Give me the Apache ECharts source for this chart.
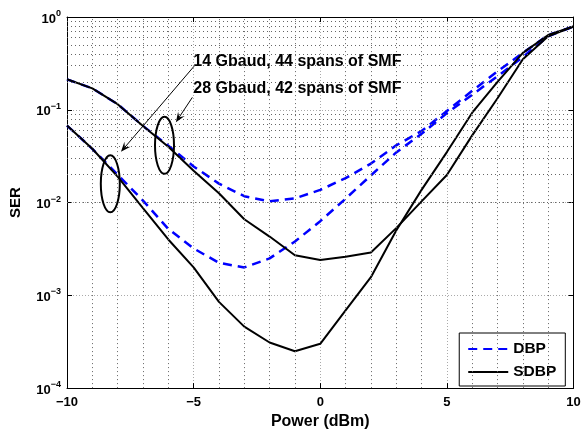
<!DOCTYPE html>
<html>
<head>
<meta charset="utf-8">
<script src="https://cdn.jsdelivr.net/npm/echarts@6/dist/echarts.min.js"></script>
<style>
html, body { margin: 0; padding: 0; background: #fff; }
#chart { width: 584px; height: 435px; }
</style>
</head>
<body>
<div id="chart"></div>
<script>
// launch power (dBm)
const power = [-10, -9, -8, -7, -6, -5, -4, -3, -2, -1, 0, 1, 2, 3, 4, 5, 6, 7, 8, 9, 10]

// 28 Gbaud, 42 spans
const dbp28 = [0.213, 0.17, 0.115, 0.067, 0.041, 0.0245, 0.016, 0.0117, 0.0103, 0.0111, 0.0137, 0.0183, 0.0263, 0.0414, 0.059, 0.097, 0.16, 0.26, 0.41, 0.64, 0.79]
const sdbp28 = [0.213, 0.17, 0.115, 0.067, 0.040, 0.022, 0.0126, 0.0066, 0.0043, 0.0027, 0.0024, 0.0026, 0.0029, 0.0053, 0.0103, 0.0198, 0.053, 0.133, 0.35, 0.62, 0.79]

// 14 Gbaud, 44 spans
const dbp14 = [0.0676, 0.038, 0.020, 0.0105, 0.0052, 0.0032, 0.00224, 0.0020, 0.0025, 0.0038, 0.0063, 0.011, 0.0196, 0.0347, 0.055, 0.092, 0.145, 0.23, 0.37, 0.62, 0.79]
const sdbp14 = [0.0676, 0.038, 0.019, 0.0087, 0.0040, 0.0020, 0.00085, 0.00046, 0.00031, 0.00025, 0.00030, 0.00069, 0.00157, 0.0050, 0.0137, 0.035, 0.093, 0.20, 0.41, 0.64, 0.79]

// minor grid positions
const xMinor = [-9, -8, -7, -6, -4, -3, -2, -1, 1, 2, 3, 4, 6, 7, 8, 9]
const yMinor = [2e-4, 3e-4, 4e-4, 5e-4, 6e-4, 7e-4, 8e-4, 9e-4,
  2e-3, 3e-3, 4e-3, 5e-3, 6e-3, 7e-3, 8e-3, 9e-3,
  2e-2, 3e-2, 4e-2, 5e-2, 6e-2, 7e-2, 8e-2, 9e-2,
  0.2, 0.3, 0.4, 0.5, 0.6, 0.7, 0.8, 0.9]

// annotations (data coords)
const annoLabels = ['14 Gbaud, 44 spans of SMF', '28 Gbaud, 42 spans of SMF']
const annoLabelAt = [[-5.01, 0.333], [-5.01, 0.169]]
const ellipseAt = [[-8.29, 0.0159], [-6.15, 0.0414]]
const arrowFrom = [[-4.98, 0.295], [-5.05, 0.136]]
const arrowTo = [[-7.87, 0.0352], [-5.70, 0.0735]]

const FONT = '"Liberation Sans", Arial, Helvetica, sans-serif'
const pairs = ys => power.map((x, i) => [x, ys[i]])

const chart = echarts.init(document.getElementById('chart'))

function sup(v) {
  const e = Math.round(Math.log10(v))
  return '{b|10}{s|' + (e < 0 ? '\u2212' + (-e) : e) + '}'
}

const axisLine = { show: true, onZero: false, lineStyle: { color: '#000', width: 1 } }

const dbpStyle = { color: '#0000ff', width: 2.5, type: [9, 6] }
const sdbpStyle = { color: '#000', width: 2 }

chart.setOption({
  animation: false,
  grid: { left: 66, right: 10.5, top: 17, bottom: 43 },
  legend: {
    data: ['DBP', 'SDBP'],
    orient: 'vertical',
    right: 18.7,
    bottom: 49,
    itemWidth: 40,
    itemHeight: 14,
    itemGap: 7,
    padding: [8, 9, 6, 8],
    borderColor: '#000',
    borderWidth: 1,
    borderRadius: 0,
    backgroundColor: '#fff',
    selectedMode: false,
    itemStyle: { opacity: 0 },
    textStyle: { fontFamily: FONT, fontWeight: 'bold', fontSize: 15.5, color: '#000' }
  },
  xAxis: [
    {
      type: 'value',
      min: -10,
      max: 10,
      interval: 5,
      position: 'bottom',
      axisLine: axisLine,
      axisTick: { inside: true, length: 5, lineStyle: { color: '#000' } },
      axisLabel: {
        color: '#000', fontFamily: FONT, fontWeight: 'bold', fontSize: 13, margin: 8,
        formatter: v => String(v).replace('-', '\u2212')
      },
      splitLine: { show: true, lineStyle: { color: '#aaa', type: [1, 2], width: 1 } },
      name: 'Power (dBm)',
      nameLocation: 'middle',
      nameGap: 25,
      nameTextStyle: { color: '#000', fontFamily: FONT, fontWeight: 'bold', fontSize: 16 }
    },
    {
      type: 'value',
      min: -10,
      max: 10,
      interval: 5,
      position: 'top',
      axisLine: axisLine,
      axisTick: { inside: true, length: 5, lineStyle: { color: '#000' } },
      axisLabel: { show: false },
      splitLine: { show: false }
    }
  ],
  yAxis: [
    {
      type: 'log',
      logBase: 10,
      min: 1e-4,
      max: 1,
      position: 'left',
      axisLine: axisLine,
      axisTick: { inside: true, length: 5, lineStyle: { color: '#000' } },
      axisLabel: {
        margin: 6,
        formatter: sup,
        rich: {
          b: { fontFamily: FONT, fontWeight: 'bold', fontSize: 13, color: '#000', lineHeight: 16, padding: [4, 0, 0, 0] },
          s: { fontFamily: FONT, fontWeight: 'bold', fontSize: 9, color: '#000', lineHeight: 10, verticalAlign: 'top' }
        }
      },
      splitLine: { show: true, lineStyle: { color: '#aaa', type: [1, 2], width: 1 } },
      name: 'SER',
      nameLocation: 'middle',
      nameGap: 44,
      nameTextStyle: { color: '#000', fontFamily: FONT, fontWeight: 'bold', fontSize: 15 }
    },
    {
      type: 'log',
      logBase: 10,
      min: 1e-4,
      max: 1,
      position: 'right',
      axisLine: axisLine,
      axisTick: { inside: true, length: 5, lineStyle: { color: '#000' } },
      axisLabel: { show: false },
      splitLine: { show: false }
    }
  ],
  series: [
    {
      name: 'grid',
      type: 'line',
      data: [],
      silent: true,
      markLine: {
        silent: true,
        symbol: 'none',
        label: { show: false },
        lineStyle: { color: '#666', type: [1, 3], width: 1 },
        data: yMinor.map(v => ({ yAxis: v })).concat(xMinor.map(v => ({ xAxis: v })))
      }
    },
    { name: 'DBP', type: 'line', data: pairs(dbp28), symbol: 'none', lineStyle: dbpStyle, itemStyle: { color: '#0000ff' } },
    { name: 'DBP', type: 'line', data: pairs(dbp14), symbol: 'none', lineStyle: dbpStyle, itemStyle: { color: '#0000ff' } },
    { name: 'SDBP', type: 'line', data: pairs(sdbp28), symbol: 'none', lineStyle: sdbpStyle, itemStyle: { color: '#000' } },
    { name: 'SDBP', type: 'line', data: pairs(sdbp14), symbol: 'none', lineStyle: sdbpStyle, itemStyle: { color: '#000' } }
  ]
})

// annotations: labels, ellipses, arrows
const px = p => chart.convertToPixel({ xAxisIndex: 0, yAxisIndex: 0 }, p)
const graphics = []
annoLabels.forEach((t, i) => {
  const p = px(annoLabelAt[i])
  graphics.push({
    type: 'text', z: 100,
    style: { text: t, x: p[0], y: p[1], font: 'bold 16px ' + FONT, fill: '#000', verticalAlign: 'middle' }
  })
  const c = px(ellipseAt[i])
  graphics.push({
    type: 'ellipse', z: 100,
    shape: { cx: c[0], cy: c[1], rx: 9.5, ry: 28.5 },
    style: { fill: 'none', stroke: '#000', lineWidth: 2 }
  })
  const a = px(arrowFrom[i])
  const b = px(arrowTo[i])
  const dx = b[0] - a[0], dy = b[1] - a[1]
  const len = Math.hypot(dx, dy)
  const ux = dx / len, uy = dy / len
  const L = 10, W = 4
  graphics.push({
    type: 'line', z: 100,
    shape: { x1: a[0], y1: a[1], x2: b[0] - ux * 6, y2: b[1] - uy * 6 },
    style: { stroke: '#000', lineWidth: 1 }
  })
  graphics.push({
    type: 'polygon', z: 100,
    shape: {
      points: [
        [b[0], b[1]],
        [b[0] - ux * L - uy * W, b[1] - uy * L + ux * W],
        [b[0] - ux * L * 0.6, b[1] - uy * L * 0.6],
        [b[0] - ux * L + uy * W, b[1] - uy * L - ux * W]
      ]
    },
    style: { fill: '#000' }
  })
})
chart.setOption({ graphic: graphics })
</script>
</body>
</html>
